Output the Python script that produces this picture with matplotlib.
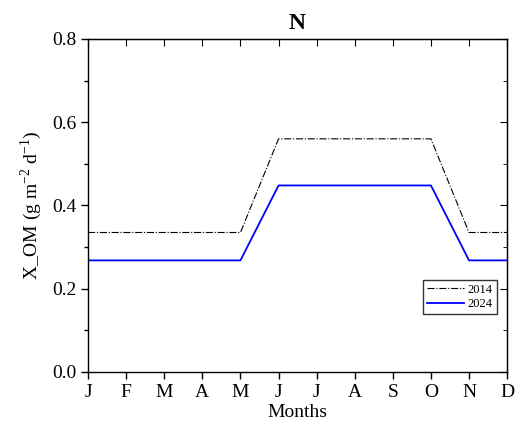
import numpy as np
import matplotlib
matplotlib.use('Agg')
import matplotlib.pyplot as plt

plt.rcParams['font.family'] = ['Liberation Serif', 'DejaVu Serif']
plt.rcParams['mathtext.fontset'] = 'custom'
plt.rcParams['mathtext.rm'] = 'Liberation Serif'

# data
months = ['J', 'F', 'M', 'A', 'M', 'J', 'J', 'A', 'S', 'O', 'N', 'D']
y2014 = [0.335, 0.335, 0.335, 0.335, 0.335, 0.56, 0.56, 0.56, 0.56, 0.56, 0.335, 0.335]
y2024 = [0.268, 0.268, 0.268, 0.268, 0.268, 0.448, 0.448, 0.448, 0.448, 0.448, 0.268, 0.268]

fig = plt.figure(figsize=(5.18, 4.28), dpi=100)
ax = fig.add_axes([0.170, 0.131, 0.809, 0.778])

x = np.arange(len(months))
ax.plot(x, y2014, color='black', linestyle='-.', linewidth=0.8, label='2014')
ax.plot(x, y2024, color='blue', linewidth=1.3, label='2024')

ax.set_xlim(0, 11)
ax.set_ylim(0, 0.8)
ax.set_xticks(x)
ax.set_xticklabels(months, fontsize=14)
ax.set_yticks([0.0, 0.2, 0.4, 0.6, 0.8])
ax.set_yticklabels(['0.0', '0.2', '0.4', '0.6', '0.8'], fontsize=14)
ax.set_yticks([0.1, 0.3, 0.5, 0.7], minor=True)
ax.tick_params(axis='both', which='major', direction='out', length=5, width=1)
ax.tick_params(axis='y', which='minor', direction='out', length=3, width=1)

for s in ax.spines.values():
    s.set_linewidth(1)

# inward ticks on top and right
axt = ax.secondary_xaxis('top')
axt.set_xticks(x)
axt.tick_params(direction='in', length=5, labeltop=False)
axr = ax.secondary_yaxis('right')
axr.set_yticks([0.0, 0.2, 0.4, 0.6, 0.8])
axr.set_yticks([0.1, 0.3, 0.5, 0.7], minor=True)
axr.tick_params(which='major', direction='in', length=5, labelright=False)
axr.tick_params(which='minor', direction='in', length=3)

ax.set_xlabel('Months', fontsize=14, labelpad=2)
ax.set_ylabel(r'X_OM (g m$^{-2}$ d$^{-1}$)', fontsize=14, labelpad=6)
ax.set_title('N', fontsize=17, fontweight='bold', pad=7)

ax.legend(loc='lower right', bbox_to_anchor=(0.99, 0.155), fontsize=9,
          frameon=True, fancybox=False, edgecolor='black', handlelength=3.0,
          borderpad=0.3, labelspacing=0.2, handletextpad=0.3)

fig.savefig('out.png', dpi=100)
